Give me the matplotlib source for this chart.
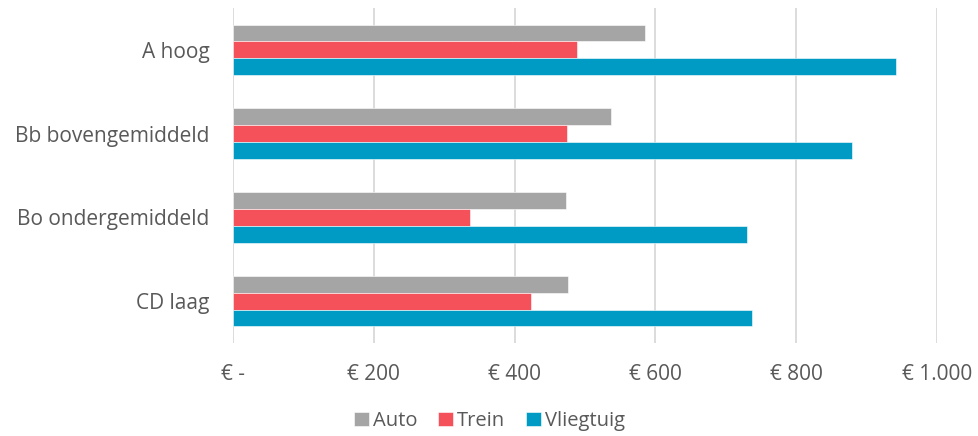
import numpy as np
import matplotlib.pyplot as plt

# data
categories = ["A hoog", "Bb bovengemiddeld", "Bo ondergemiddeld", "CD laag"]
auto = [586, 537, 473, 476]
trein = [488, 474, 337, 423]
vliegtuig = [942, 880, 730, 737]
tick_values = [0, 200, 400, 600, 800, 1000]
tick_labels = ["€ -", "€ 200", "€ 400", "€ 600", "€ 800", "€ 1.000"]

plt.rcParams["font.family"] = ["Open Sans", "DejaVu Sans"]
text_color = "#595959"

fig = plt.figure(figsize=(9.79, 4.36), dpi=100)
ax = fig.add_axes([0.238, 1 - 343 / 436, 0.719, 335 / 436])

y = np.arange(len(categories))
h = 0.2
ax.barh(y - h, auto, height=h, color="#A5A5A5", label="Auto", edgecolor="white", linewidth=0.4)
ax.barh(y, trein, height=h, color="#F5515A", label="Trein", edgecolor="white", linewidth=0.4)
ax.barh(y + h, vliegtuig, height=h, color="#009BC5", label="Vliegtuig", edgecolor="white", linewidth=0.4)

ax.set_ylim(3.5, -0.5)
ax.set_xlim(0, 1000)
ax.set_yticks(y)
ax.set_yticklabels(categories, fontsize=15, color=text_color)
ax.set_xticks(tick_values)
ax.set_xticklabels(tick_labels, fontsize=15, color=text_color)
ax.tick_params(axis="both", length=0)
ax.tick_params(axis="x", pad=15)
ax.tick_params(axis="y", pad=17)

ax.grid(axis="x", color="#D9D9D9", linewidth=1.3)
ax.set_axisbelow(True)
for s in ["top", "right", "bottom", "left"]:
    ax.spines[s].set_visible(False)

leg = fig.legend(loc="lower center", bbox_to_anchor=(0.5, -0.03), ncol=3, frameon=False,
                 fontsize=14.5, handlelength=0.75, handleheight=0.75, handletextpad=0.2,
                 columnspacing=1.0)
for t in leg.get_texts():
    t.set_color(text_color)

fig.savefig("out.png", dpi=100)
